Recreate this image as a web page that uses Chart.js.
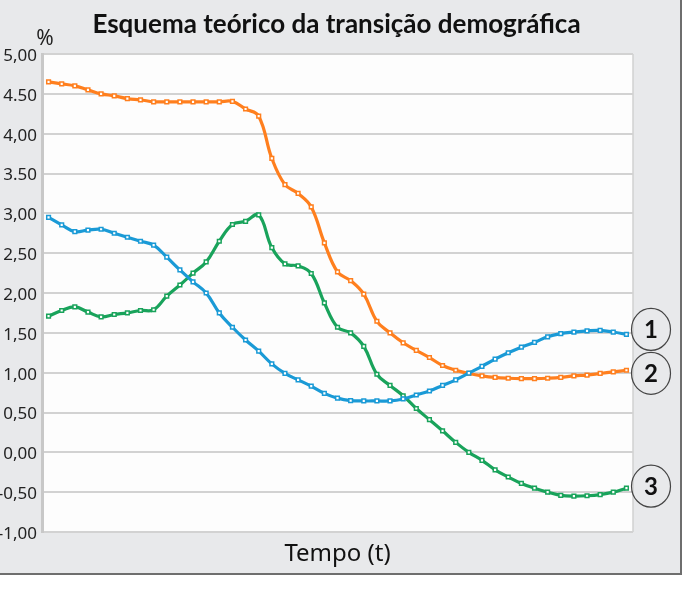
<!DOCTYPE html>
<html>
<head>
<meta charset="utf-8">
<script src="https://cdn.jsdelivr.net/npm/chart.js@4"></script>
<style>
  html, body { margin: 0; padding: 0; background: #ffffff; }
  #wrap { width: 700px; height: 600px; position: relative; }
</style>
</head>
<body>
<div id="wrap"><canvas id="c" width="700" height="600"></canvas></div>
<script>
const chartTitle = 'Esquema teórico da transição demográfica';
const xAxisTitle = 'Tempo (t)';
const yUnit = '%';

const periods = [1,2,3,4,5,6,7,8,9,10,11,12,13,14,15,16,17,18,19,20,21,22,23,24,25,26,27,28,29,30,31,32,33,34,35,36,37,38,39,40,41,42,43,44,45];

// Series 1 (blue)
const series1 = [2.95,2.855,2.77,2.79,2.80,2.75,2.70,2.65,2.60,2.45,2.29,2.14,2.00,1.75,1.57,1.41,1.27,1.11,0.99,0.91,0.83,0.74,0.68,0.65,0.645,0.645,0.645,0.67,0.72,0.77,0.84,0.91,0.995,1.08,1.17,1.25,1.32,1.38,1.45,1.49,1.51,1.525,1.53,1.51,1.48];
// Series 2 (orange)
const series2 = [4.65,4.625,4.60,4.55,4.50,4.475,4.44,4.425,4.40,4.40,4.40,4.40,4.40,4.40,4.405,4.31,4.22,3.69,3.36,3.25,3.08,2.63,2.265,2.155,1.985,1.645,1.50,1.375,1.28,1.19,1.09,1.03,0.99,0.96,0.94,0.93,0.925,0.925,0.93,0.94,0.96,0.97,0.99,1.01,1.03];
// Series 3 (green)
const series3 = [1.71,1.78,1.825,1.76,1.70,1.73,1.75,1.78,1.79,1.96,2.10,2.25,2.39,2.65,2.86,2.90,2.98,2.57,2.365,2.34,2.245,1.875,1.57,1.50,1.33,0.98,0.84,0.71,0.55,0.41,0.27,0.125,0.00,-0.10,-0.22,-0.31,-0.39,-0.45,-0.50,-0.54,-0.55,-0.545,-0.53,-0.50,-0.45];

const seriesLabels = ['1', '2', '3'];

const yTickValues = [-1, -0.5, 0, 0.5, 1, 1.5, 2, 2.5, 3, 3.5, 4, 4.5, 5];
const yTickLabels = ['-1,00', '-0,50', '0,00', '0,50', '1,00', '1,50', '2,00', '2,50', '3,00', '3.50', '4,00', '4.50', '5,00'];

const panelPlugin = {
  id: 'panel',
  beforeDraw(chart) {
    const ctx = chart.ctx;
    const a = chart.chartArea;
    ctx.save();
    ctx.fillStyle = '#ffffff';
    ctx.fillRect(0, 0, chart.width, chart.height);
    ctx.fillStyle = '#e8e9eb';
    ctx.fillRect(0, 0, 682, 574);
    ctx.strokeStyle = '#6e6e6e';
    ctx.lineWidth = 2;
    ctx.beginPath();
    ctx.moveTo(681, 0);
    ctx.lineTo(681, 574);
    ctx.lineTo(0, 574);
    ctx.stroke();
    ctx.fillStyle = '#fdfdfd';
    ctx.fillRect(a.left, a.top, a.right - a.left, a.bottom - a.top);
    ctx.strokeStyle = '#d0d0d0';
    ctx.lineWidth = 1.5;
    ctx.beginPath();
    ctx.moveTo(a.right, a.top);
    ctx.lineTo(a.right, a.bottom);
    ctx.stroke();
    // title
    ctx.fillStyle = '#111111';
    ctx.font = 'bold 26px Lato';
    ctx.textAlign = 'center';
    ctx.textBaseline = 'alphabetic';
    ctx.fillText(chartTitle, (a.left + a.right) / 2 - 1, 33);
    // unit
    ctx.font = '21px "Noto Sans"';
    ctx.fillStyle = '#222222';
    ctx.fillText(yUnit, 45, 45);
    ctx.restore();
  },
  afterDatasetsDraw(chart) {
    const ctx = chart.ctx;
    const a = chart.chartArea;
    const y = chart.scales.y;
    const nudges = [-5, 3, -2];
    ctx.save();
    chart.data.datasets.forEach((ds, i) => {
      const last = ds.data[ds.data.length - 1];
      const cx = a.right + 18;
      const cy = y.getPixelForValue(last) + nudges[i];
      ctx.beginPath();
      ctx.ellipse(cx, cy, 19.5, 21, 0, 0, Math.PI * 2);
      ctx.strokeStyle = '#444444';
      ctx.lineWidth = 1.2;
      ctx.stroke();
      ctx.fillStyle = '#111111';
      ctx.font = 'bold 24px Lato';
      ctx.textAlign = 'center';
      ctx.textBaseline = 'middle';
      ctx.fillText(seriesLabels[i], cx, cy + 1);
    });
    ctx.restore();
  }
};

const mk = (data, color) => ({
  data: data,
  borderColor: color,
  backgroundColor: '#ffffff',
  borderWidth: 3.2,
  tension: 0.4,
  pointStyle: 'rect',
  pointRadius: 2.6,
  pointBorderWidth: 1.5,
  pointBorderColor: color,
  pointBackgroundColor: '#ffffff',
  clip: false
});

new Chart(document.getElementById('c'), {
  type: 'line',
  data: {
    labels: periods,
    datasets: [
      mk(series1, '#1a9ad6'),
      mk(series2, '#ff7f1e'),
      mk(series3, '#19a35b')
    ]
  },
  options: {
    responsive: false,
    animation: false,
    devicePixelRatio: 1,
    layout: { padding: { top: 54, right: 67, bottom: 0, left: 0 } },
    plugins: {
      legend: { display: false },
      title: { display: false },
      tooltip: { enabled: false }
    },
    scales: {
      x: {
        type: 'category',
        offset: true,
        grid: { display: false, drawTicks: false },
        border: { display: false },
        ticks: { display: false },
        title: {
          display: true,
          text: xAxisTitle,
          color: '#111111',
          font: { family: 'Noto Sans', size: 24 },
          padding: { top: 0, bottom: 31 }
        },
        afterFit(s) { s.height = 68; }
      },
      y: {
        min: -1,
        max: 5,
        afterBuildTicks(s) { s.ticks = yTickValues.map(v => ({ value: v })); },
        ticks: {
          padding: 5,
          labelOffset: 2,
          color: '#222222',
          font: { family: 'Noto Sans', size: 17 },
          callback(value) {
            const idx = yTickValues.indexOf(value);
            return idx >= 0 ? yTickLabels[idx] : '';
          }
        },
        grid: { color: '#d2d2d2', lineWidth: 2, drawTicks: false },
        border: { display: true, color: '#c8c8c8', width: 3 },
        afterFit(s) { s.width = 42; }
      }
    }
  },
  plugins: [panelPlugin]
});
</script>
</body>
</html>
